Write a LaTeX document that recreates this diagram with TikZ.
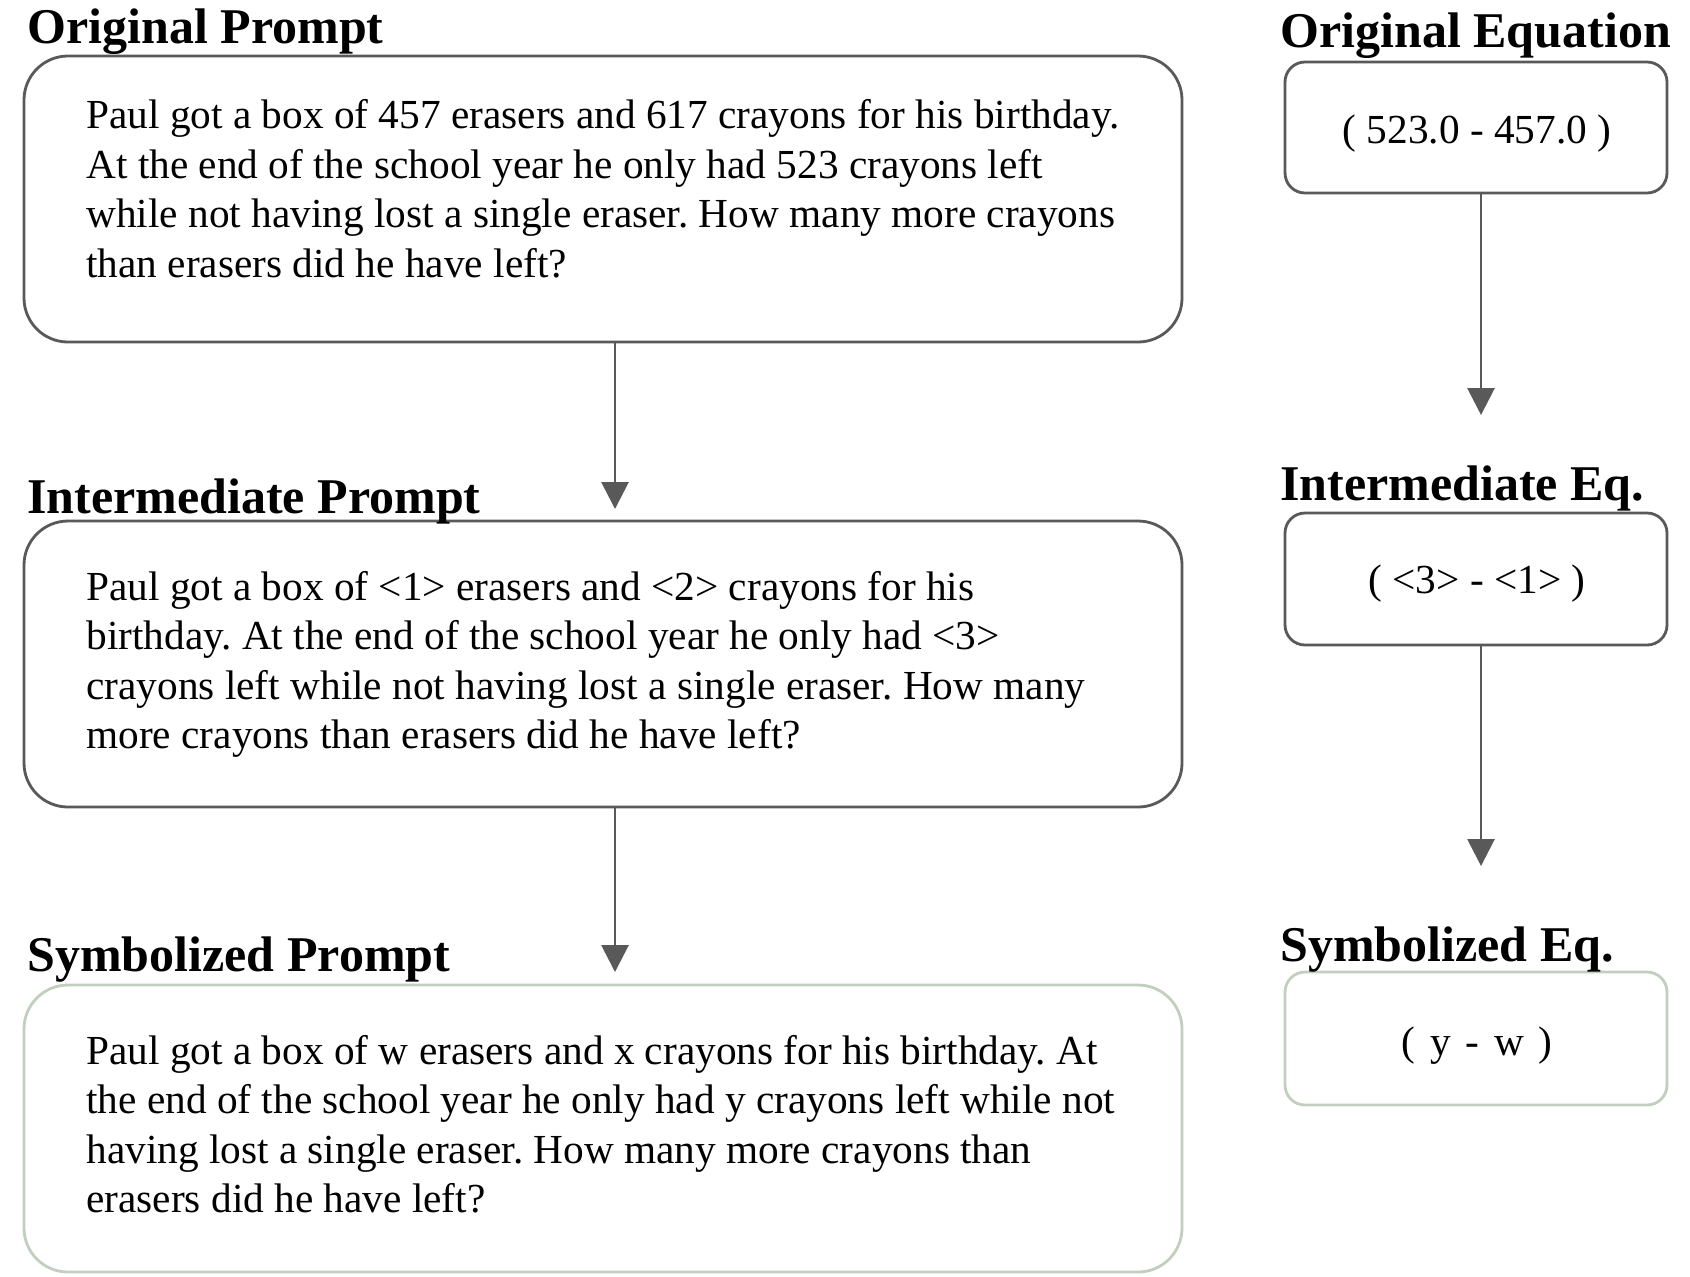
\documentclass[tikz,border=0pt]{standalone}
\usepackage{fontspec}
\setmainfont{Liberation Serif}
\usetikzlibrary{arrows.meta}
\definecolor{edgegray}{RGB}{89,89,89}
\definecolor{symedge}{RGB}{195,207,190}
\frenchspacing
\begin{document}
\begin{tikzpicture}[x=0.5pt,y=-0.5pt,
  title/.style={anchor=base west, inner sep=0pt, font=\fontsize{25pt}{30pt}\selectfont\bfseries},
  body/.style={anchor=base west, inner sep=0pt, font=\fontsize{20.65pt}{24.8pt}\selectfont},
  eqtext/.style={anchor=center, inner sep=0pt, font=\fontsize{20.65pt}{24.8pt}\selectfont},
  promptbox/.style={draw=edgegray, line width=1.4pt, rounded corners=22pt, inner sep=0pt, outer sep=0pt, minimum width=579pt},
  eqbox/.style={draw=edgegray, line width=1.4pt, rounded corners=10pt, inner sep=0pt, outer sep=0pt, minimum width=191pt},
  arr/.style={draw=edgegray, line width=1.4pt, -{Triangle[width=13.5pt,length=13.5pt]}}
]
\fill[white] (0,0) rectangle (1690,1276);
\useasboundingbox (0,0) rectangle (1690,1276);

% prompt boxes
\node[promptbox, minimum height=143pt] (b1) at (603,199) {};
\node[promptbox, minimum height=143pt] (b2) at (603,664) {};
\node[promptbox, draw=symedge, minimum height=143.5pt] (b3) at (603,1128.5) {};

% equation boxes
\node[eqbox, minimum height=65.5pt] (e1) at (1476,127.5) {};
\node[eqbox, minimum height=66pt] (e2) at (1476,579) {};
\node[eqbox, draw=symedge, minimum height=66.5pt] (e3) at (1476,1038.5) {};

% titles
\node[title] (h1) at (27,43) {Original Prompt};
\node[title] (h2) at (27,513) {Intermediate Prompt};
\node[title] (h3) at (27,971) {Symbolized Prompt};
\node[title] (h4) at (1280,47) {Original Equation};
\node[title] (h5) at (1280,500) {Intermediate Eq.};
\node[title] (h6) at (1280,961) {Symbolized Eq.};

% box 1 text
\node[body] (p1a) at (86,128.5) {Paul got a box of 457 erasers and 617 crayons for his birthday.};
\node[body] (p1b) at (86,178.1) {At the end of the school year he only had 523 crayons left};
\node[body] (p1c) at (86,227.7) {while not having lost a single eraser. How many more crayons};
\node[body] (p1d) at (86,277.3) {than erasers did he have left?};

% box 2 text
\node[body] (p2a) at (86,600) {Paul got a box of <1> erasers and <2> crayons for his};
\node[body] (p2b) at (86,649.6) {birthday. At the end of the school year he only had <3>};
\node[body] (p2c) at (86,699.2) {crayons left while not having lost a single eraser. How many};
\node[body] (p2d) at (86,748.8) {more crayons than erasers did he have left?};

% box 3 text
\node[body] (p3a) at (86,1064) {Paul got a box of w erasers and x crayons for his birthday. At};
\node[body] (p3b) at (86,1113.6) {the end of the school year he only had y crayons left while not};
\node[body] (p3c) at (86,1163.2) {having lost a single eraser. How many more crayons than};
\node[body] (p3d) at (86,1212.8) {erasers did he have left?};

% equation texts
\node[eqtext] (q1) at (1477,133.5) {( 523.0 - 457.0 )};
\node[eqtext] (q2) at (1477,584) {( <3> - <1> )};
\node[eqtext] (q3) at (1477,1045.5) {(\hspace{0.36em}y\hspace{0.36em}-\hspace{0.36em}w\hspace{0.36em})};

% arrows
\coordinate (t1) at (615,509);
\coordinate (t2) at (615,972);
\coordinate (t3) at (1481,415);
\coordinate (t4) at (1481,866);
\draw[arr] (b1.south -| t1) -- (t1);
\draw[arr] (b2.south -| t2) -- (t2);
\draw[arr] (e1.south -| t3) -- (t3);
\draw[arr] (e2.south -| t4) -- (t4);
\end{tikzpicture}
\end{document}
